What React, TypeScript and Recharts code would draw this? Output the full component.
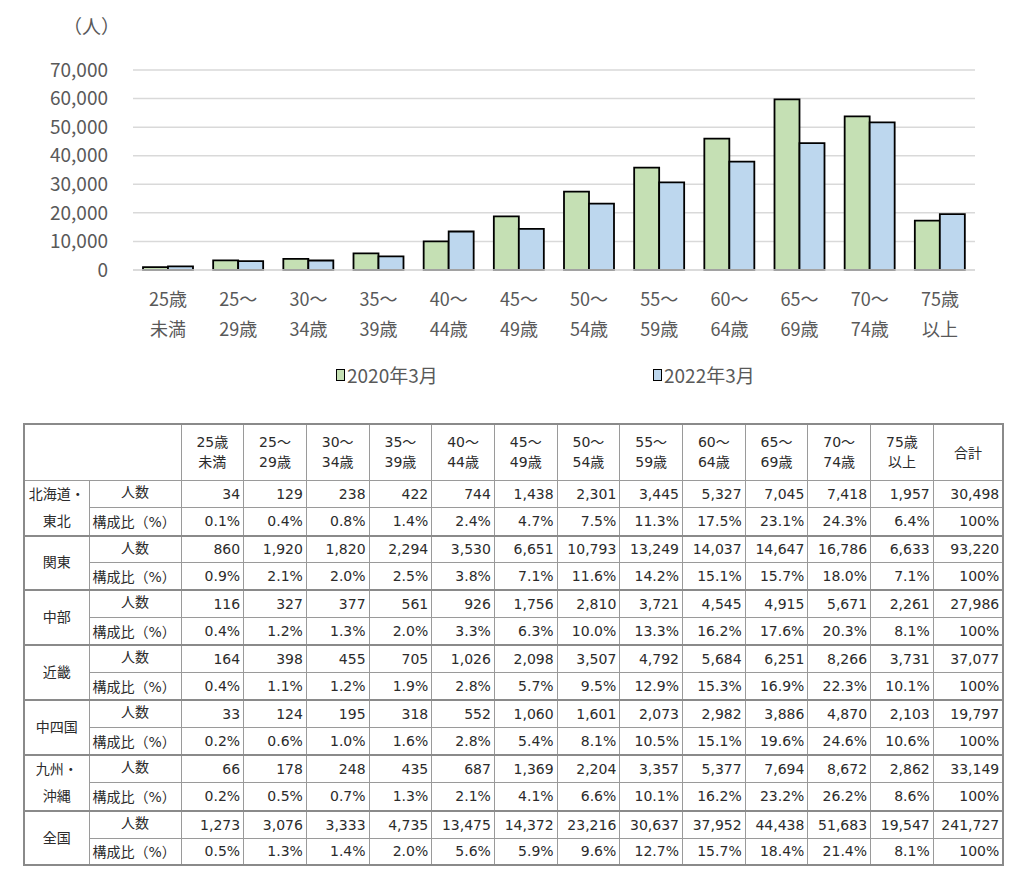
import { Bar, BarChart, CartesianGrid, Legend, XAxis, YAxis } from "recharts";

// age bands (two-line labels as printed under the axis)
const ageTop = ["25歳", "25～", "30～", "35～", "40～", "45～", "50～", "55～", "60～", "65～", "70～", "75歳"];
const ageBottom = ["未満", "29歳", "34歳", "39歳", "44歳", "49歳", "54歳", "59歳", "64歳", "69歳", "74歳", "以上"];

// 2020年3月, 2022年3月 = 全国 row of the table
const march2020 = [1000, 3400, 3900, 5800, 10000, 18800, 27400, 35800, 46000, 59700, 53800, 17300];
const march2022 = [1273, 3076, 3333, 4735, 13475, 14372, 23216, 30637, 37952, 44438, 51683, 19547];

const yTicks = [0, 10000, 20000, 30000, 40000, 50000, 60000, 70000];

// table
const regions = ["北海道・東北", "関東", "中部", "近畿", "中四国", "九州・沖縄", "全国"];
const counts = [
  [34, 129, 238, 422, 744, 1438, 2301, 3445, 5327, 7045, 7418, 1957],
  [860, 1920, 1820, 2294, 3530, 6651, 10793, 13249, 14037, 14647, 16786, 6633],
  [116, 327, 377, 561, 926, 1756, 2810, 3721, 4545, 4915, 5671, 2261],
  [164, 398, 455, 705, 1026, 2098, 3507, 4792, 5684, 6251, 8266, 3731],
  [33, 124, 195, 318, 552, 1060, 1601, 2073, 2982, 3886, 4870, 2103],
  [66, 178, 248, 435, 687, 1369, 2204, 3357, 5377, 7694, 8672, 2862],
  march2022,
];
const totals = [30498, 93220, 27986, 37077, 19797, 33149, 241727];
const shares = [
  ["0.1%", "0.4%", "0.8%", "1.4%", "2.4%", "4.7%", "7.5%", "11.3%", "17.5%", "23.1%", "24.3%", "6.4%"],
  ["0.9%", "2.1%", "2.0%", "2.5%", "3.8%", "7.1%", "11.6%", "14.2%", "15.1%", "15.7%", "18.0%", "7.1%"],
  ["0.4%", "1.2%", "1.3%", "2.0%", "3.3%", "6.3%", "10.0%", "13.3%", "16.2%", "17.6%", "20.3%", "8.1%"],
  ["0.4%", "1.1%", "1.2%", "1.9%", "2.8%", "5.7%", "9.5%", "12.9%", "15.3%", "16.9%", "22.3%", "10.1%"],
  ["0.2%", "0.6%", "1.0%", "1.6%", "2.8%", "5.4%", "8.1%", "10.5%", "15.1%", "19.6%", "24.6%", "10.6%"],
  ["0.2%", "0.5%", "0.7%", "1.3%", "2.1%", "4.1%", "6.6%", "10.1%", "16.2%", "23.2%", "26.2%", "8.6%"],
  ["0.5%", "1.3%", "1.4%", "2.0%", "5.6%", "5.9%", "9.6%", "12.7%", "15.7%", "18.4%", "21.4%", "8.1%"],
];

const GREEN = "#c5e0b4";
const BLUE = "#bdd7ee";
const GRAY = "#595959";
const CJK = '"Noto Sans CJK JP", sans-serif';

const chartData = ageTop.map((t, i) => ({
  age: t + ageBottom[i],
  y2020: march2020[i],
  y2022: march2022[i],
}));

function AgeTick(props: any) {
  const { x, y, payload } = props;
  const i = props.index ?? payload.index;
  return (
    <text x={x} y={y} textAnchor="middle" fill={GRAY} fontSize={18} fontFamily={CJK}>
      <tspan x={x} dy={28}>{ageTop[i]}</tspan>
      <tspan x={x} dy={30}>{ageBottom[i]}</tspan>
    </text>
  );
}

function LegendBoxes(props: any) {
  const items = props.payload || [];
  const lefts = [336, 653];
  return (
    <div style={{ position: "relative", height: 60, fontFamily: CJK }}>
      {items.map((it: any, i: number) => (
        <div
          key={it.value}
          style={{ position: "absolute", left: lefts[i], top: 21, display: "flex", alignItems: "center", color: GRAY, fontSize: 19 }}
        >
          <span style={{ width: 7, height: 10, border: "1.5px solid #000", background: it.color, marginRight: 2 }} />
          {it.value}
        </div>
      ))}
    </div>
  );
}

const cell = { border: "1px solid #9a9a9a", padding: "0 3px" } as const;

function StatsTable() {
  const dataCols = ageTop.length;
  return (
    <table
      style={{
        position: "absolute",
        left: 23,
        top: 423,
        width: 980,
        borderCollapse: "collapse",
        tableLayout: "fixed",
        border: "2px solid #8a8a8a",
        fontFamily: '"DejaVu Sans", "Noto Sans CJK JP", sans-serif',
        fontSize: 14,
        color: "#2b2b2b",
      }}
    >
      <colgroup>
        <col style={{ width: 65 }} />
        <col style={{ width: 92 }} />
        {Array.from({ length: dataCols }, (_, i) => (
          <col key={i} style={{ width: 62.7 }} />
        ))}
        <col style={{ width: 70 }} />
      </colgroup>
      <tbody>
        <tr style={{ height: 56 }}>
          <td colSpan={2} style={cell} />
          {ageTop.map((t, i) => (
            <td key={i} style={{ ...cell, textAlign: "center", lineHeight: "20px" }}>
              {t}
              <br />
              {ageBottom[i]}
            </td>
          ))}
          <td style={{ ...cell, textAlign: "center" }}>合計</td>
        </tr>
        {regions.map((r, ri) => [
          <tr key={r + "a"} style={{ height: 27.4 }}>
            <td rowSpan={2} style={{ ...cell, textAlign: "center", lineHeight: "27px", borderBottom: "2px solid #8a8a8a" }}>
              {r.includes("・") ? (
                <>
                  {r.split("・")[0]}・<br />
                  {r.split("・")[1]}
                </>
              ) : (
                r
              )}
            </td>
            <td style={{ ...cell, textAlign: "center", verticalAlign: "top" }}>人数</td>
            {counts[ri].map((v, i) => (
              <td key={i} style={{ ...cell, textAlign: "right" }}>
                {v.toLocaleString("en-US")}
              </td>
            ))}
            <td style={{ ...cell, textAlign: "right" }}>{totals[ri].toLocaleString("en-US")}</td>
          </tr>,
          <tr key={r + "b"} style={{ height: 27.4, borderBottom: "2px solid #8a8a8a" }}>
            <td style={{ ...cell, textAlign: "left" }}>構成比（%）</td>
            {shares[ri].map((v, i) => (
              <td key={i} style={{ ...cell, textAlign: "right" }}>
                {v}
              </td>
            ))}
            <td style={{ ...cell, textAlign: "right" }}>100%</td>
          </tr>,
        ])}
      </tbody>
    </table>
  );
}

export default function App() {
  return (
    <div style={{ position: "relative", width: 1024, height: 874, margin: -8, background: "#fff", overflow: "hidden" }}>
      <div style={{ position: "absolute", left: 63, top: 12, fontFamily: CJK, fontSize: 19, color: GRAY }}>（人）</div>
      <BarChart
        width={1024}
        height={400}
        data={chartData}
        margin={{ top: 70, right: 49, left: 0, bottom: 0 }}
        barGap={0}
        barSize={25}
      >
        <CartesianGrid vertical={false} stroke="#d9d9d9" strokeWidth={1.5} />
        <XAxis
          dataKey="age"
          interval={0}
          height={70}
          tickLine={false}
          axisLine={{ stroke: "#d9d9d9", strokeWidth: 1.5 }}
          tick={<AgeTick />}
        />
        <YAxis
          width={133}
          domain={[0, 70000]}
          ticks={yTicks}
          axisLine={false}
          tickLine={false}
          tickMargin={19}
          tickFormatter={(v: number) => v.toLocaleString("en-US")}
          tick={{ fill: GRAY, fontSize: 19, fontFamily: CJK }}
        />
        <Legend verticalAlign="bottom" height={60} content={<LegendBoxes />} />
        <Bar dataKey="y2020" name="2020年3月" fill={GREEN} stroke="#000" strokeWidth={1.8} isAnimationActive={false} />
        <Bar dataKey="y2022" name="2022年3月" fill={BLUE} stroke="#000" strokeWidth={1.8} isAnimationActive={false} />
      </BarChart>
      <StatsTable />
    </div>
  );
}
